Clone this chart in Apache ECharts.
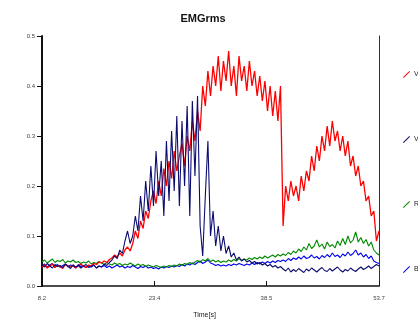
<!DOCTYPE html>
<html>
<head>
<meta charset="utf-8">
<script src="https://cdn.jsdelivr.net/npm/echarts@6/dist/echarts.min.js"></script>
<style>
  html, body { margin: 0; padding: 0; background: #fff; }
  #container { width: 418px; height: 320px; }
</style>
</head>
<body>
<div id="container"></div>
<script>
// sampling of the recording: first sample at 8.2 s, one every 0.35 s up to 53.7 s
const startTime = 8.2;
const sampleStep = 0.35;

const seriesNames = ['Vastus lateralis', 'Vastus medialis', 'Rectus femoris', 'Biceps femoris'];
const xTickValues = [8.2, 23.4, 38.5, 53.7];

const vastusLateralis = [
  0.038, 0.042, 0.036, 0.040, 0.044, 0.037, 0.041, 0.039, 0.035, 0.043, 0.040, 0.038, 0.042, 0.036, 0.041, 0.044, 0.039, 0.037, 0.042, 0.040, 0.045, 0.043, 0.048,
  0.046, 0.050, 0.047, 0.053, 0.056,
  0.062, 0.058, 0.066, 0.060, 0.072, 0.078, 0.070,
  0.085, 0.11, 0.095, 0.13, 0.115, 0.15, 0.135, 0.17,
  0.19, 0.165, 0.21, 0.18, 0.235, 0.20,
  0.25, 0.215, 0.27, 0.23, 0.26, 0.285,
  0.24, 0.30, 0.27, 0.33, 0.29, 0.35, 0.31,
  0.40, 0.36, 0.43, 0.38, 0.44, 0.40, 0.46, 0.39, 0.45, 0.41, 0.47, 0.40, 0.44, 0.38, 0.46, 0.41, 0.44, 0.39, 0.45, 0.40, 0.43, 0.38, 0.42, 0.37, 0.41, 0.35, 0.40, 0.34, 0.39, 0.33, 0.40,
  0.12, 0.20, 0.17, 0.21, 0.18, 0.20, 0.17, 0.22, 0.19, 0.23, 0.21, 0.26, 0.23, 0.28, 0.25, 0.30, 0.27, 0.32, 0.28, 0.33, 0.29, 0.31, 0.27, 0.30, 0.26, 0.29, 0.24, 0.26, 0.22, 0.24, 0.20, 0.21, 0.17, 0.18, 0.14, 0.15, 0.09, 0.11
];

const vastusMedialis = [
  0.042, 0.038, 0.045, 0.040, 0.036, 0.043, 0.039, 0.041, 0.037, 0.044, 0.040, 0.035, 0.042, 0.038, 0.041, 0.036, 0.040, 0.043, 0.037, 0.039, 0.042, 0.036, 0.040, 0.038, 0.044, 0.041, 0.047,
  0.052, 0.060, 0.055, 0.072, 0.065, 0.09, 0.11, 0.085,
  0.10, 0.14, 0.11, 0.18, 0.13, 0.21, 0.15, 0.24,
  0.16, 0.27, 0.18, 0.25, 0.14, 0.29,
  0.17, 0.31, 0.19, 0.34, 0.16, 0.33,
  0.20, 0.36, 0.14, 0.37, 0.22, 0.38,
  0.12, 0.06, 0.18, 0.29, 0.10, 0.15, 0.08, 0.12, 0.07, 0.10, 0.065, 0.08, 0.058,
  0.066, 0.052, 0.058, 0.050, 0.054, 0.048, 0.051,
  0.046, 0.049, 0.044, 0.047, 0.042, 0.045, 0.040, 0.043, 0.038, 0.041, 0.036, 0.039,
  0.034, 0.030, 0.036, 0.028, 0.033, 0.029, 0.035, 0.031, 0.027, 0.034, 0.030, 0.036, 0.032, 0.028, 0.033, 0.037, 0.031, 0.029, 0.035, 0.030, 0.034, 0.038, 0.032, 0.028, 0.033, 0.030, 0.036, 0.032, 0.029, 0.034, 0.038, 0.033, 0.036, 0.040, 0.035, 0.039, 0.043, 0.040
];

const rectusFemoris = [
  0.048, 0.052, 0.046, 0.050, 0.054, 0.047, 0.051, 0.049, 0.053, 0.046, 0.050, 0.048, 0.052, 0.047, 0.049, 0.045, 0.048, 0.046, 0.050, 0.044, 0.047, 0.045, 0.049,
  0.046, 0.043, 0.047, 0.044, 0.042, 0.046, 0.043, 0.045, 0.041, 0.044, 0.042, 0.046, 0.043, 0.040, 0.044, 0.041, 0.043, 0.039, 0.042, 0.040, 0.038, 0.041, 0.039, 0.037, 0.040, 0.038, 0.041, 0.039,
  0.042, 0.040, 0.044, 0.041, 0.045, 0.043, 0.047, 0.044, 0.048, 0.051, 0.047, 0.053, 0.050, 0.055, 0.049, 0.052, 0.048, 0.051, 0.047, 0.050,
  0.048, 0.052, 0.049, 0.053, 0.050, 0.055, 0.051, 0.054, 0.052, 0.056, 0.053, 0.057, 0.054, 0.058, 0.055, 0.060, 0.056, 0.059, 0.062, 0.058, 0.063, 0.060,
  0.064, 0.061, 0.067, 0.063, 0.070, 0.066, 0.074, 0.069, 0.078, 0.072, 0.085, 0.075, 0.080, 0.092, 0.078, 0.084, 0.074, 0.088, 0.079, 0.083, 0.076, 0.090, 0.081, 0.095, 0.083, 0.10, 0.086, 0.092, 0.108, 0.088, 0.097, 0.085, 0.093, 0.080, 0.088, 0.072, 0.066, 0.062
];

const bicepsFemoris = [
  0.040, 0.044, 0.038, 0.042, 0.045, 0.039, 0.043, 0.037, 0.041, 0.044, 0.038, 0.042, 0.040, 0.036, 0.043, 0.039, 0.041, 0.037, 0.040, 0.038, 0.042, 0.036, 0.040,
  0.038, 0.041, 0.037, 0.040, 0.036, 0.039, 0.042, 0.038, 0.040, 0.036, 0.039, 0.037, 0.041, 0.038, 0.035, 0.039, 0.037, 0.040, 0.036, 0.038, 0.035, 0.037, 0.034, 0.038, 0.036, 0.039, 0.037, 0.040,
  0.038, 0.041, 0.039, 0.043, 0.040, 0.044, 0.042, 0.046, 0.043, 0.047, 0.050, 0.045, 0.048, 0.052, 0.046, 0.044, 0.041, 0.043, 0.040, 0.042,
  0.040, 0.043, 0.041, 0.044, 0.042, 0.045, 0.043, 0.041, 0.044, 0.042, 0.046, 0.043, 0.047, 0.044, 0.048, 0.045, 0.049, 0.046, 0.050, 0.047, 0.051, 0.049,
  0.052, 0.049, 0.055, 0.051, 0.056, 0.053, 0.058, 0.054, 0.060, 0.055, 0.057, 0.062, 0.056, 0.059, 0.054, 0.061, 0.057, 0.063, 0.058, 0.066, 0.059, 0.062, 0.057, 0.064, 0.060, 0.068, 0.061, 0.065, 0.072, 0.062, 0.066, 0.058, 0.063, 0.055, 0.060, 0.050, 0.047, 0.045
];

const colors = ['#ff0000', '#0c0c70', '#008a00', '#0000ee'];

function withTime(values) {
  return values.map((v, i) => [+(startTime + i * sampleStep).toFixed(2), v]);
}

const chart = echarts.init(document.getElementById('container'));

const lineSeries = [vastusLateralis, vastusMedialis, rectusFemoris, bicepsFemoris].map((values, idx) => ({
  name: seriesNames[idx],
  type: 'line',
  data: withTime(values),
  showSymbol: false,
  symbol: 'none',
  lineStyle: { width: idx === 0 ? 1.3 : 1.1, color: colors[idx] },
  itemStyle: { color: colors[idx] },
  z: [3, 4, 2, 1][idx],
  animation: false,
}));

const option = {
  animation: false,
  backgroundColor: '#ffffff',
  title: {
    text: 'EMGrms',
    left: 198,
    textAlign: 'center',
    top: 8,
    textStyle: { fontFamily: 'Liberation Sans', fontWeight: 'bold', fontSize: 11, color: '#111' },
  },
  legend: {
    orient: 'vertical',
    left: 398,
    top: 66,
    itemGap: 58,
    itemWidth: 7,
    itemHeight: 8,
    icon: 'path://M0,9 L1,10 L10,1 L9,0 Z',
    textStyle: { fontFamily: 'Liberation Sans', fontSize: 7, color: '#222', padding: [0, 0, 0, -1] },
    data: seriesNames,
  },
  grid: { left: 42, right: 39, top: 36, bottom: 34, outerBoundsMode: 'none', containLabel: false },
  xAxis: {
    type: 'value',
    min: 8.2,
    max: 53.7,
    name: 'Time[s]',
    nameLocation: 'middle',
    nameGap: 26,
    nameTextStyle: { fontFamily: 'Liberation Sans', fontSize: 7, color: '#222', padding: [0, 0, 0, -12] },
    axisLine: { onZero: false, lineStyle: { color: '#111', width: 1.5 } },
    axisTick: { customValues: xTickValues, length: 5, inside: true, lineStyle: { color: '#111' } },
    axisLabel: {
      customValues: xTickValues,
      fontFamily: 'Liberation Sans',
      fontSize: 6,
      color: '#444',
      margin: 9,
    },
    splitLine: { show: false },
  },
  yAxis: [
    {
      type: 'value',
      min: 0,
      max: 0.5,
      interval: 0.1,
      name: 'EMG [mV]',
      nameLocation: 'middle',
      nameGap: 28,
      nameTextStyle: { fontFamily: 'Liberation Sans', fontSize: 7, fontWeight: 'bold', color: '#222', padding: [0, 0, 20, 0] },
      axisLine: { show: true, lineStyle: { color: '#111', width: 2 } },
      axisTick: { show: true, length: 5, lineStyle: { color: '#111' } },
      axisLabel: {
        fontFamily: 'Liberation Sans',
        fontSize: 6,
        color: '#444',
        margin: 7,
        formatter: (v) => v.toFixed(1),
      },
      splitLine: { show: false },
    },
    {
      type: 'value',
      min: 0,
      max: 0.5,
      position: 'right',
      axisLine: { show: true, lineStyle: { color: '#333', width: 1 } },
      axisTick: { show: false },
      axisLabel: { show: false },
      splitLine: { show: false },
    },
  ],
  series: lineSeries,
};

chart.setOption(option);
</script>
</body>
</html>
